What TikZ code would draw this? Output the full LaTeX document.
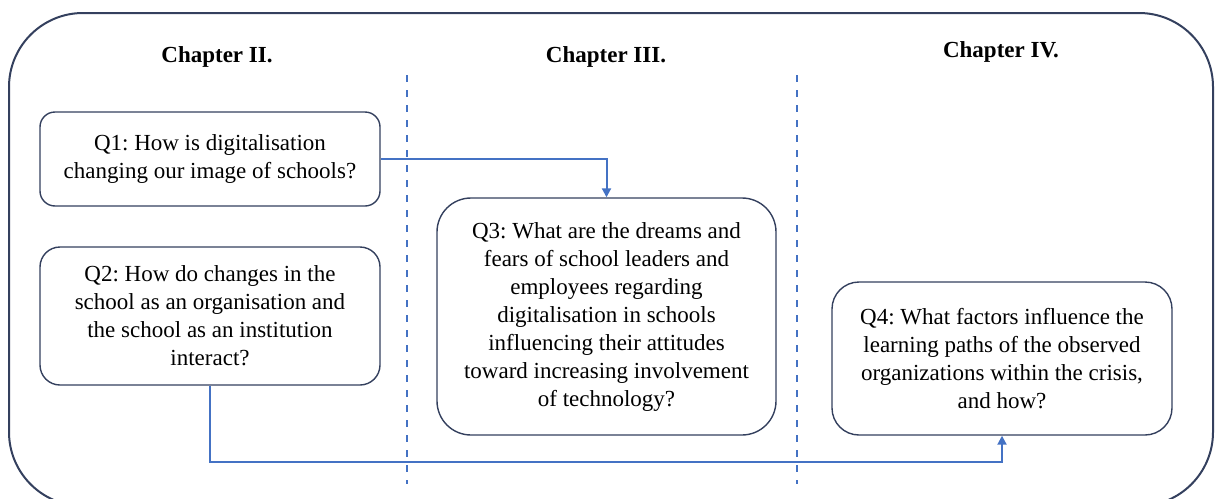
\documentclass[tikz,border=0pt]{standalone}
\usepackage{fontspec}
\setmainfont{Liberation Serif}
\usetikzlibrary{arrows.meta}

\definecolor{frameblue}{RGB}{52,64,94}
\definecolor{linkblue}{RGB}{68,114,196}

\tikzset{
  qbox/.style={draw=frameblue, line width=1.4pt, fill=white, align=center,
    font=\fontsize{23}{28}\selectfont\frenchspacing, inner sep=0pt},
  chapter/.style={font=\fontsize{23}{28}\selectfont\bfseries, inner sep=0pt},
  link/.style={draw=linkblue, line width=2pt, -{Triangle[length=9pt,width=9pt]}},
  divider/.style={draw=linkblue, line width=2pt, dash pattern=on 7pt off 8pt}
}

\begin{document}
\begin{tikzpicture}[x=1pt, y=-1pt]
  \useasboundingbox (0,0) rectangle (1215,498);
  \clip (0,0) rectangle (1215,498);

  % outer frame (its lower edge runs below the page)
  \draw[frameblue, line width=2pt, rounded corners=74pt] (9,13) rectangle (1213,506);

  % column dividers
  \coordinate (d1t) at (407,75);
  \coordinate (d1b) at (407,484);
  \coordinate (d2t) at (797,75);
  \coordinate (d2b) at (797,484);
  \draw[divider] (d1t) -- (d1b);
  \draw[divider] (d2t) -- (d2b);

  % chapter headings
  \node[chapter] (ch2) at (217,57) {Chapter II.};
  \node[chapter] (ch3) at (606,57) {Chapter III.};
  \node[chapter] (ch4) at (1001,52) {Chapter IV.};

  % research questions
  \node[qbox, rounded corners=15pt, minimum width=340pt, minimum height=94pt]
    (q1) at (210,159) {Q1: How is digitalisation\\changing our image of schools?};
  \node[qbox, rounded corners=20pt, minimum width=340pt, minimum height=138pt]
    (q2) at (210,316) {Q2: How do changes in the\\school as an organisation and\\the school as an institution\\interact?};
  \node[qbox, rounded corners=34pt, minimum width=339pt, minimum height=237pt]
    (q3) at (606.5,316.5) {Q3: What are the dreams and\\fears of school leaders and\\employees regarding\\digitalisation in schools\\influencing their attitudes\\toward increasing involvement\\of technology?};
  \node[qbox, rounded corners=27pt, minimum width=340pt, minimum height=153pt]
    (q4) at (1002,358.5) {Q4: What factors influence the\\learning paths of the observed\\organizations within the crisis,\\and how?};

  % links between questions
  \coordinate (low) at (0,462);
  \draw[link] (q1.east) -| (q3.north);
  \draw[link] (q2.south) -- (q2.south |- low) -| (q4.south);
\end{tikzpicture}
\end{document}
